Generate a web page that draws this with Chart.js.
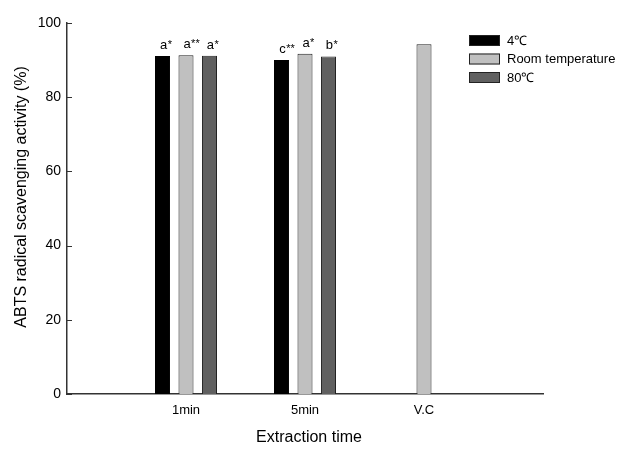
<!DOCTYPE html>
<html><head><meta charset="utf-8">
<script src="https://cdn.jsdelivr.net/npm/chart.js@4/dist/chart.umd.min.js"></script>
<style>html,body{margin:0;padding:0;background:#fff}#wrap{width:621px;height:450px;position:relative}</style>
</head><body><div id="wrap"><canvas id="c" width="621" height="450"></canvas></div>
<script>
const categories = ['', '1min', '5min', 'V.C', ''];
const seriesNames = ['4\u2103', 'Room temperature', '80\u2103'];
const values4C = [null, 91.1, 90.0, null, null];
const valuesRoom = [null, 91.3, 91.7, 94.3, null];
const values80C = [null, 91.2, 91.0, null, null];
const labels4C = [null, 'a*', 'c**', null, null];
const labelsRoom = [null, 'a**', 'a*', null, null];
const labels80C = [null, 'a*', 'b*', null, null];
const yTicks = [0, 20, 40, 60, 80, 100];
const yTitle = 'ABTS radical scavenging activity (%)';
const xTitle = 'Extraction time';

const FONT = "'Liberation Sans', Arial, sans-serif";
const colors = ['#000000', '#c0c0c0', '#606060'];
const sigLabels = [labels4C, labelsRoom, labels80C];

const annotPlugin = {
  id: 'annot',
  afterDatasetsDraw(chart) {
    const ctx = chart.ctx;
    ctx.save();
    chart.data.datasets.forEach((ds, i) => {
      const meta = chart.getDatasetMeta(i);
      meta.data.forEach((el, j) => {
        const lab = sigLabels[i][j];
        if (!lab || ds.data[j] == null) return;
        const letter = lab.replace(/\*/g, '');
        const stars = lab.slice(letter.length);
        ctx.font = '13px ' + FONT;
        ctx.fillStyle = '#000';
        ctx.textAlign = 'center';
        ctx.textBaseline = 'alphabetic';
        const by = el.y - 7;
        ctx.fillText(letter, el.x + 1, by);
        const w = ctx.measureText(letter).width;
        ctx.font = '11px ' + FONT;
        ctx.textAlign = 'left';
        ctx.fillText(stars, el.x + 1 + w / 2 + 0.5, by - 1);
      });
    });
    // inward ticks on y axis
    const ys = chart.scales.y;
    ctx.strokeStyle = '#333';
    ctx.lineWidth = 1;
    yTicks.forEach(v => {
      const py = Math.round(ys.getPixelForValue(v)) + 0.5;
      ctx.beginPath();
      ctx.moveTo(ys.right, py);
      ctx.lineTo(ys.right + 5, py);
      ctx.stroke();
    });
    // y title
    ctx.font = '16px ' + FONT;
    ctx.fillStyle = '#000';
    ctx.textAlign = 'center';
    ctx.textBaseline = 'middle';
    ctx.translate(22, 197);
    ctx.rotate(-Math.PI / 2);
    ctx.fillText(yTitle, 0, 0);
    ctx.restore();
    // legend
    const ca = chart.chartArea;
    ctx.save();
    const bx = ca.right - 74, by0 = ca.top + 12;
    chart.data.datasets.forEach((ds, i) => {
      const y = by0 + i * 18.5;
      ctx.fillStyle = ds.backgroundColor;
      ctx.fillRect(bx, y, 31, 11);
      ctx.strokeStyle = '#222';
      ctx.lineWidth = 1;
      ctx.strokeRect(bx + 0.5, y + 0.5, 30, 10);
      ctx.fillStyle = '#000';
      ctx.font = '13px ' + FONT;
      ctx.textAlign = 'left';
      ctx.textBaseline = 'middle';
      ctx.fillText(ds.label, bx + 38, y + 6);
    });
    ctx.restore();
    // x title
    ctx.save();
    ctx.font = '16px ' + FONT;
    ctx.fillStyle = '#000';
    ctx.textAlign = 'center';
    ctx.textBaseline = 'middle';
    ctx.fillText(xTitle, (ca.left + ca.right) / 2 + 4, 438);
    ctx.restore();
  }
};

new Chart(document.getElementById('c'), {
  type: 'bar',
  data: {
    labels: categories,
    datasets: [
      { label: seriesNames[0], data: values4C, backgroundColor: colors[0], borderColor: '#000', borderWidth: 1 },
      { label: seriesNames[1], data: valuesRoom, backgroundColor: colors[1], borderColor: '#222', borderWidth: 1 },
      { label: seriesNames[2], data: values80C, backgroundColor: colors[2], borderColor: '#222', borderWidth: 1 }
    ]
  },
  options: {
    responsive: false,
    animation: false,
    events: [],
    categoryPercentage: 0.592,
    barPercentage: 0.64,
    layout: { padding: { left: 0, right: 78, top: 23, bottom: 0 } },
    plugins: { legend: { display: false }, tooltip: { enabled: false } },
    scales: {
      x: {
        offset: false,
        grid: { display: false, drawTicks: false },
        border: { display: true, color: '#333', width: 1.5 },
        ticks: { font: { family: FONT, size: 13 }, color: '#000', padding: 9, autoSkip: false, maxRotation: 0 },
        title: { display: false },
        afterFit(s) { s.height = 56; }
      },
      y: {
        min: 0, max: 100,
        afterBuildTicks(s) { s.ticks = yTicks.map(v => ({ value: v })); },
        grid: { display: false, drawTicks: false },
        border: { display: true, color: '#333', width: 1.5 },
        ticks: { font: { family: FONT, size: 14 }, color: '#000', padding: 6 },
        afterFit(s) { s.width = 67; }
      }
    }
  },
  plugins: [annotPlugin]
});
</script>
</body></html>
